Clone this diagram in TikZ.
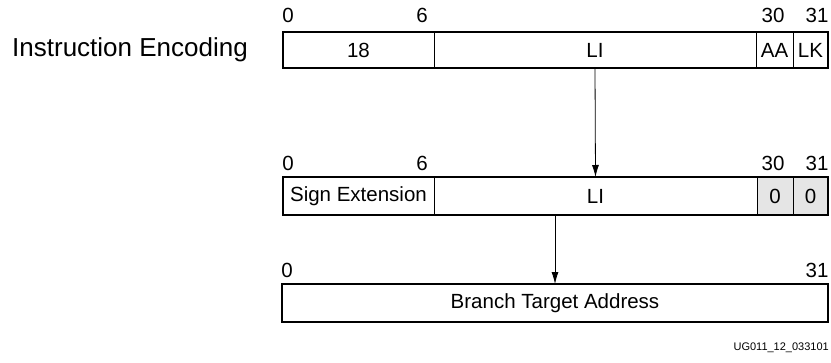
\documentclass[tikz,border=0pt]{standalone}
\usepackage{fontspec}
\setmainfont{Liberation Sans}
\usetikzlibrary{arrows.meta}
\begin{document}
\begin{tikzpicture}[x=1pt,y=-1pt,
  cell/.style={rectangle,draw=black,line width=0.8pt,anchor=north west,inner sep=0pt,outer sep=0pt,
    font=\fontsize{20.5}{24}\selectfont},
  shaded/.style={cell,fill=black!10},
  frame/.style={draw=black,line width=1.9pt},
  bitlbl/.style={inner sep=0pt,font=\fontsize{20.5}{24}\selectfont},
  conn/.style={draw=black,line width=0.8pt,-{Latex[length=12pt,width=7pt]}}]
\useasboundingbox (0,0) rectangle (831,362);
% title
\node[inner sep=0pt,anchor=west,font=\fontsize{26}{30}\selectfont] (title) at (12,50) {Instruction Encoding};
% top row
\node[cell,minimum width=151pt,minimum height=36pt] (t1) at (283,32) {18};
\node[cell,minimum width=322pt,minimum height=36pt] (t2) at (434,32) {LI};
\node[cell,minimum width=37pt,minimum height=36pt] (t3) at (756,32) {AA};
\node[cell,minimum width=35pt,minimum height=36pt] (t4) at (793,32) {LK};
\draw[frame] (t1.north west) rectangle (t4.south east);
\node[bitlbl] (tl0) at (288,15) {0};
\node[bitlbl] (tl6) at (422,15) {6};
\node[bitlbl] (tl30) at (773,15) {30};
\node[bitlbl] (tl31) at (817,15) {31};
% middle row
\node[cell,minimum width=151pt,minimum height=38pt] (m1) at (283,177) {Sign Extension};
\node[cell,minimum width=323pt,minimum height=38pt] (m2) at (434,177) {LI};
\node[shaded,minimum width=36pt,minimum height=38pt] (m3) at (757,177) {0};
\node[shaded,minimum width=35pt,minimum height=38pt] (m4) at (793,177) {0};
\draw[frame] (m1.north west) rectangle (m4.south east);
\node[bitlbl] (ml0) at (288,163) {0};
\node[bitlbl] (ml6) at (422,163) {6};
\node[bitlbl] (ml30) at (773,163) {30};
\node[bitlbl] (ml31) at (817,163) {31};
% bottom row
\node[cell,minimum width=546pt,minimum height=38pt] (b) at (282,284) {Branch Target Address};
\draw[frame] (b.north west) rectangle (b.south east);
\node[bitlbl] (bl0) at (287,270) {0};
\node[bitlbl] (bl31) at (817,270) {31};
% connectors
\draw[conn] (t2.south) -- (m2.north);
\draw[conn] (b.north |- m2.south) -- (b.north);
% footer
\node[inner sep=0pt,anchor=east,font=\fontsize{11}{13}\selectfont] (foot) at (829,348) {UG011\_12\_033101};
\end{tikzpicture}
\end{document}
